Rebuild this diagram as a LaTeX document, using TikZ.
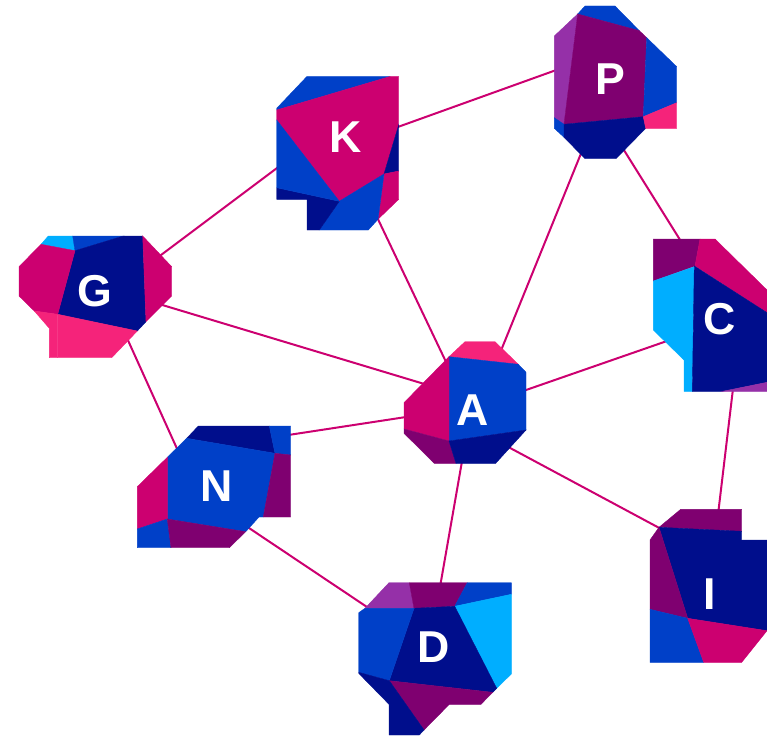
\documentclass[tikz,border=0pt]{standalone}
\usepackage{fontspec}
\setmainfont{Liberation Sans}
\usetikzlibrary{backgrounds}
\definecolor{cmg}{HTML}{CC0070}
\definecolor{cnv}{HTML}{000E8C}
\definecolor{cbl}{HTML}{0040C8}
\definecolor{ccy}{HTML}{00AEFF}
\definecolor{cpu}{HTML}{7F0070}
\definecolor{clp}{HTML}{9530A8}
\definecolor{cpk}{HTML}{F5237A}
\tikzset{
  mg/.style={fill=cmg,draw=cmg,line width=0.3pt},nv/.style={fill=cnv,draw=cnv,line width=0.3pt},
  bl/.style={fill=cbl,draw=cbl,line width=0.3pt},cy/.style={fill=ccy,draw=ccy,line width=0.3pt},
  pu/.style={fill=cpu,draw=cpu,line width=0.3pt},lp/.style={fill=clp,draw=clp,line width=0.3pt},
  pk/.style={fill=cpk,draw=cpk,line width=0.3pt},
  lab/.style={text=white,inner sep=0pt,font=\fontsize{33.5pt}{33.5pt}\selectfont\bfseries},
  link/.style={draw=cmg,line width=1.5pt}
}
\begin{document}
\begin{tikzpicture}[x=0.75pt,y=-0.75pt]
\useasboundingbox (0,0) rectangle (767,735);
% K
\path[bl] (306.7,76.7)--(389.3,76.7)--(276.7,110)--(276.7,108.3)--cycle;
\path[mg] (276.7,110)--(389.3,76.7)--(398.7,76.7)--(398.7,125)--(384,174)--(339.3,201.3)--(276.7,120)--cycle;
\path[nv] (398.7,125)--(398.7,171)--(384,174)--cycle;
\path[mg] (384,174)--(398.7,171)--(398.7,199.3)--(378,219.3)--cycle;
\path[bl] (339.3,201.3)--(384,174)--(378,219.3)--(368.3,230)--(319.3,230)--cycle;
\path[nv] (276.7,187.7)--(339.3,201.3)--(319.3,230)--(307,230)--(307,199.3)--(276.7,199.3)--cycle;
\path[bl] (276.7,120)--(339.3,201.3)--(276.7,187.7)--cycle;
% P
\path[bl] (577.7,14)--(585,6)--(615,6)--(639.3,30.7)--cycle;
\path[lp] (577.7,14)--(564,124.3)--(554.3,117.7)--(554.3,36)--cycle;
\path[pu] (577.7,14)--(639.3,30.7)--(646.7,37.7)--(643.3,116.7)--(564,124.3)--cycle;
\path[bl] (554.3,117.7)--(564,124.3)--(564,137.3)--(554.3,128.3)--cycle;
\path[nv] (564,124.3)--(643.3,116.7)--(645.7,128.3)--(616,158.7)--(585,158.7)--(564,137.3)--cycle;
\path[bl] (646.7,37.7)--(676.7,66.7)--(676.7,102.7)--(643.3,116.7)--cycle;
\path[pk] (643.3,116.7)--(676.7,102.7)--(676.7,128.3)--(645.7,128.3)--cycle;
% C
\path[pu] (653.3,239)--(700,239)--(695,266)--(653.3,281)--cycle;
\path[mg] (700,239)--(715,239)--(767,290)--(767,312.7)--(695,266)--cycle;
\path[cy] (653.3,281)--(694.3,266.7)--(692.3,391.3)--(684,391.3)--(684,360)--(653.3,330)--cycle;
\path[nv] (694.3,266)--(767,312.7)--(767,382.3)--(722.7,391.3)--(692.3,391.3)--cycle;
\path[lp] (767,382.3)--(767,391.3)--(722.7,391.3)--cycle;
% G
\path[cy] (48.3,236)--(72.7,236)--(75,250.7)--(41,244.3)--cycle;
\path[bl] (72.7,236)--(123.3,236)--(75,250.7)--cycle;
\path[nv] (75,250.7)--(123.3,236)--(142.7,236)--(146,321.7)--(137.3,331)--(57.7,314.3)--cycle;
\path[mg] (41,244.3)--(75,250.7)--(57.7,314.3)--(34.3,311)--(19,296)--(19,266.7)--cycle;
\path[mg] (142.7,236)--(171.7,266.7)--(171.7,296)--(146,321.7)--cycle;
\path[pk] (57.7,314.3)--(137.3,331)--(111.7,357.7)--(57.7,357.7)--cycle;
\path[pk] (34.3,311)--(57.7,314.3)--(57.7,357.7)--(49.3,357.7)--(49.3,328.3)--cycle;
% A
\path[pk] (449,356.7)--(465,341.7)--(495,341.7)--(518.3,364.3)--cycle;
\path[bl] (449,356.7)--(518.3,364.3)--(526,372.3)--(526,430)--(449,441)--cycle;
\path[mg] (449,356.7)--(449,441)--(404,429)--(404,402.7)--cycle;
\path[pu] (404,429)--(449,441)--(456,463.3)--(434.3,463.3)--(404,433.3)--cycle;
\path[nv] (449,441)--(526,430)--(495.7,463.3)--(456,463.3)--cycle;
% N
\path[nv] (198.3,426)--(269.3,426)--(275,453.3)--(186.7,438.3)--cycle;
\path[bl] (269.3,426)--(290.7,426)--(290.7,455)--(275,453.3)--cycle;
\path[bl] (186.7,438.3)--(275,453.3)--(263.3,517)--(259,517)--(245.7,531.7)--(167.3,519)--(167.3,457.3)--cycle;
\path[pu] (275,453.3)--(290.7,455)--(290.7,517)--(263.3,517)--cycle;
\path[mg] (137.3,486.7)--(167.3,457.3)--(167.3,519)--(137.3,529)--cycle;
\path[bl] (137.3,529)--(167.3,519)--(171,547.7)--(137.3,547.7)--cycle;
\path[pu] (167.3,519)--(245.7,531.7)--(229.3,547.7)--(171,547.7)--cycle;
% D
\path[lp] (389,582.7)--(409.3,582.7)--(414,608.3)--(365,608.3)--cycle;
\path[pu] (409.3,582.7)--(467.3,582.7)--(454.7,606.3)--(414,608.3)--cycle;
\path[bl] (467.3,582.7)--(511.3,582.7)--(511.3,594.3)--(454.7,606.3)--cycle;
\path[cy] (454.7,606.3)--(511.3,594.3)--(511.3,674)--(496.7,688.3)--cycle;
\path[nv] (414,608.3)--(454.7,606.3)--(496.7,688.3)--(492.7,692.3)--(389.3,680.7)--cycle;
\path[bl] (365,608.3)--(414,608.3)--(389.3,680.7)--(358.7,672.3)--(358.7,612.7)--cycle;
\path[pu] (389.3,680.7)--(492.7,692.3)--(481,704.3)--(449.3,704.3)--(424,730)--cycle;
\path[nv] (358.7,672.3)--(389.3,680.7)--(424,730)--(419.3,735)--(389,735)--(389,704.3)--(358.7,673.3)--cycle;
% I
\path[pu] (680.7,509.3)--(741.7,509.3)--(741.7,531.3)--(659,527.3)--cycle;
\path[nv] (659,527.3)--(741.7,531.3)--(741.7,540)--(767,540)--(767,630.7)--(687.7,618.3)--cycle;
\path[pu] (650,540)--(659,527.3)--(687.7,618.3)--(650,609.3)--cycle;
\path[bl] (650,609.3)--(687.7,618.3)--(703.7,662.3)--(650,662.3)--cycle;
\path[mg] (687.7,618.3)--(767,630.7)--(741.7,662.3)--(703.7,662.3)--cycle;
% labels
\node[lab] (K) at (345.7,137.3) {K};
\node[lab] (P) at (610,79) {P};
\node[lab] (C) at (720,319) {C};
\node[lab] (G) at (95,291) {G};
\node[lab] (A) at (472.3,410.3) {A};
\node[lab] (N) at (217,485.7) {N};
\node[lab] (D) at (434,647) {D};
\node[lab] (I) at (709.7,594) {I};
% connectors, behind the shapes
\begin{scope}[on background layer]
\draw[link] ([shift={(62,-33)}]G.center) -- ([shift={(-64.7,27.7)}]K.center);
\draw[link] ([shift={(49.3,-9.3)}]K.center) -- ([shift={(-52,-9.6)}]P.center);
\draw[link] ([shift={(30.3,77.7)}]K.center) -- ([shift={(-25.3,-46.3)}]A.center);
\draw[link] ([shift={(-28,72)}]P.center) -- ([shift={(27.7,-57.3)}]A.center);
\draw[link] ([shift={(12,68)}]P.center) -- ([shift={(-38,-76)}]C.center);
\draw[link] ([shift={(64,13)}]G.center) -- ([shift={(-46.3,-25.8)}]A.center);
\draw[link] ([shift={(31.5,46)}]G.center) -- ([shift={(-38.5,-33.7)}]N.center);
\draw[link] ([shift={(70,-50.5)}]N.center) -- ([shift={(-64.3,6.4)}]A.center);
\draw[link] ([shift={(29,40.3)}]N.center) -- ([shift={(-65.5,-39)}]D.center);
\draw[link] ([shift={(49.7,-18.9)}]A.center) -- ([shift={(-51,21.3)}]C.center);
\draw[link] ([shift={(-9.9,48.7)}]A.center) -- ([shift={(6,-60)}]D.center);
\draw[link] ([shift={(34.7,36)}]A.center) -- ([shift={(-44.4,-62.8)}]I.center);
\draw[link] ([shift={(13.2,68)}]C.center) -- ([shift={(8.5,-81)}]I.center);
\end{scope}
\end{tikzpicture}
\end{document}
